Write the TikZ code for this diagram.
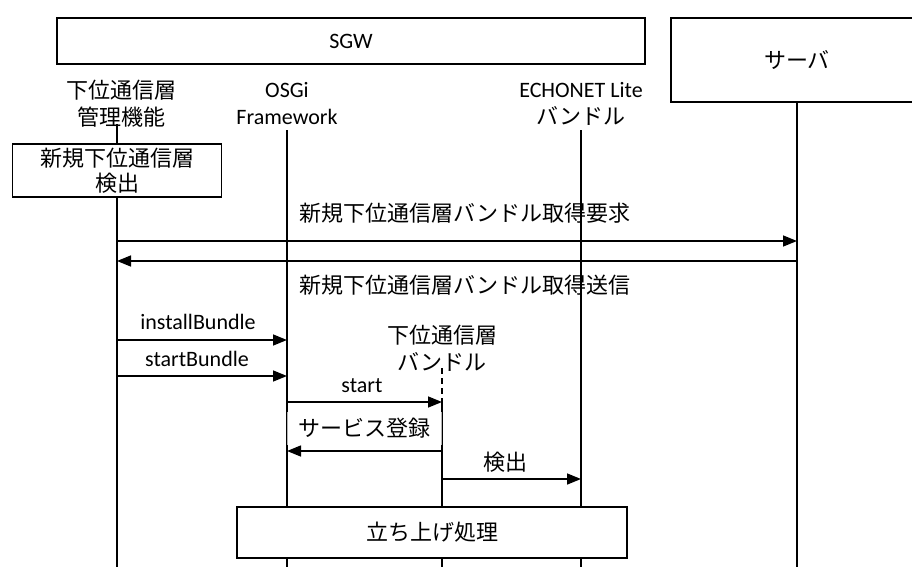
\documentclass[tikz,border=0pt]{standalone}
\usepackage{fontspec}
\setmainfont{Carlito}
\newfontfamily\jpfont{Noto Sans CJK JP}
\usetikzlibrary{arrows.meta}
\begin{document}
\begin{tikzpicture}[x=1pt,y=-1pt,
  lbl/.style={font=\fontsize{22}{27}\selectfont, inner sep=0pt, align=center},
  jlbl/.style={font=\jpfont\fontsize{22}{27}\selectfont, inner sep=0pt, align=center},
  boxnode/.style={draw, line width=1.5pt, fill=white, inner sep=0pt, align=center},
  life/.style={line width=1.5pt},
  msg/.style={line width=1.5pt, -{Triangle[length=14pt,width=11pt]}},
]
\useasboundingbox (0,0) rectangle (912,567);
\clip (0,0) rectangle (912,567);

% lifeline coordinates
\coordinate (mT) at (117,124);
\coordinate (mB) at (117,567);
\coordinate (oT) at (287,130);
\coordinate (oB) at (287,567);
\coordinate (eT) at (581,130);
\coordinate (eB) at (581,567);
\coordinate (sT) at (797,102);
\coordinate (sB) at (797,567);
\coordinate (bT) at (442,368);
\coordinate (bM) at (442,402);
\coordinate (bB) at (442,567);

% rows
\coordinate (r1) at (0,241);
\coordinate (r2) at (0,261);
\coordinate (r3) at (0,340);
\coordinate (r4) at (0,376);
\coordinate (r5) at (0,402);
\coordinate (r6) at (0,451);
\coordinate (r7) at (0,479);

% lifelines
\draw[life] (mT) -- (mB);
\draw[life] (oT) -- (oB);
\draw[life] (eT) -- (eB);
\draw[life] (sT) -- (sB);
\draw[life, dash pattern=on 6pt off 4pt] (bT) -- (bM);
\draw[life] (bM) -- (bB);

% headers
\node[boxnode, minimum width=588, minimum height=46] (sgw) at (351,41) {\fontsize{22}{27}\selectfont SGW};
\node[boxnode, minimum width=260, minimum height=84, anchor=west] (srvbox) at (670,60) {};
\node[jlbl] (srv) at (797,60) {サーバ};
\node[jlbl] (mgmt) at (121,103.5) {下位通信層\\管理機能};
\node[lbl] (osgi) at (287,103.5) {OSGi\\Framework};
\node[lbl] (echo) at (581,103.5) {ECHONET Lite\\{\jpfont バンドル}};
\node[jlbl] (lbnd) at (442,348.5) {下位通信層\\バンドル};

% detection box
\node[boxnode, font=\jpfont\fontsize{22}{25}\selectfont, minimum width=209, minimum height=53] (det) at (117,170.5) {新規下位通信層\\検出};

% messages
\draw[msg] (mT |- r1) -- (sT |- r1);
\draw[msg] (sT |- r2) -- (mT |- r2);
\node[jlbl] (req) at (465,213) {新規下位通信層バンドル取得要求};
\node[jlbl] (snd) at (465,285) {新規下位通信層バンドル取得送信};

\node[lbl] (inst) at (198,322) {installBundle};
\draw[msg] (mT |- r3) -- (oT |- r3);
\node[lbl] (stb) at (197,359) {startBundle};
\draw[msg] (mT |- r4) -- (oT |- r4);

\node[lbl] (st) at (362,386) {start};
\draw[msg] (oT |- r5) -- (bM);

\node[jlbl, fill=white, fill opacity=0.7, text opacity=1, minimum width=155, minimum height=33] (svc) at (364.5,428.5) {サービス登録};
\draw[msg] (bT |- r6) -- (oT |- r6);

\node[jlbl] (dtc) at (505,462) {検出};
\draw[msg] (bT |- r7) -- (eT |- r7);

\node[boxnode, font=\jpfont\fontsize{22}{27}\selectfont, minimum width=390, minimum height=51] (boot) at (432,532.5) {立ち上げ処理};
\end{tikzpicture}
\end{document}
